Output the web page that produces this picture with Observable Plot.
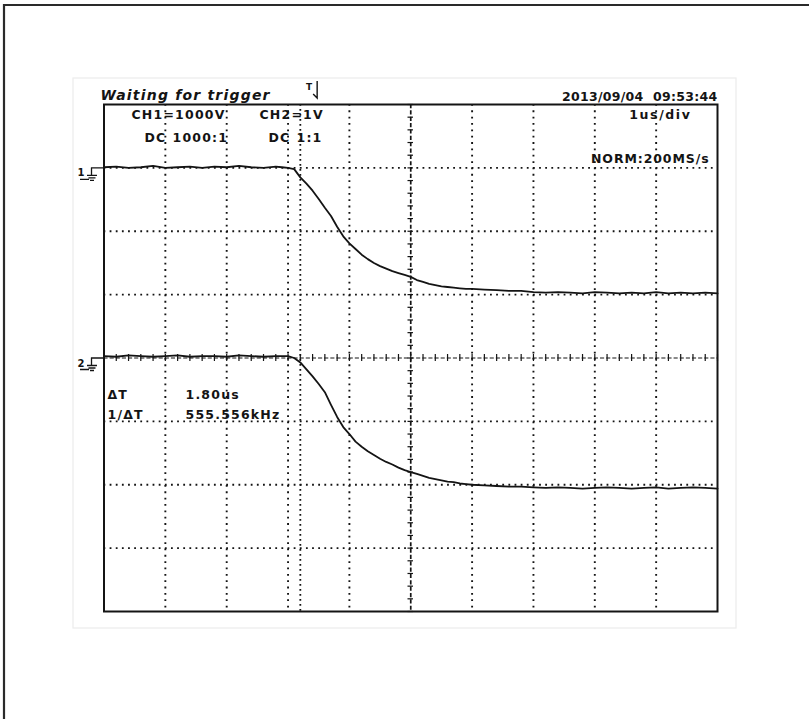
<!DOCTYPE html>
<html><head><meta charset="utf-8">
<script src="https://cdn.jsdelivr.net/npm/d3@7"></script>
<script src="https://cdn.jsdelivr.net/npm/@observablehq/plot@0.6"></script>
<style>
html,body{margin:0;padding:0;background:#fff;}
#chart{width:809px;height:719px;}
</style></head><body><div id="chart"></div>
<script>
// ---- data read from the oscilloscope screen ----
// time in microseconds (1 us/div), relative to screen centre
const timeUs = [-5.0,-4.8,-4.6,-4.4,-4.2,-4.0,-3.8,-3.6,-3.4,-3.2,-3.0,-2.8,-2.6,-2.4,-2.2,
  -2.1,-2.0,-1.9,-1.8,-1.7,-1.6,-1.5,-1.4,-1.3,-1.2,-1.1,-1.0,-0.9,-0.8,-0.7,-0.6,-0.5,-0.4,-0.3,-0.2,-0.1,
  0.0,0.1,0.2,0.3,0.4,0.5,0.6,0.7,0.8,0.9,1.0,
  1.2,1.4,1.6,1.8,2.0,2.2,2.4,2.6,2.8,3.0,3.2,3.4,3.6,3.8,4.0,4.2,4.4,4.6,4.8,5.0];
// CH1 (1000 V/div, DC 1000:1), volts relative to its marker
const ch1Volts = [10,20,0,10,30,0,10,20,0,20,10,30,10,0,20,
  10,0,-20,-150,-250,-360,-490,-630,-760,-930,-1080,-1190,-1280,-1370,-1440,-1500,-1550,-1590,-1630,-1660,-1690,
  -1720,-1770,-1800,-1830,-1850,-1870,-1880,-1890,-1900,-1910,-1910,
  -1920,-1930,-1940,-1940,-1960,-1970,-1960,-1970,-1980,-1960,-1970,-1980,-1970,-1980,-1960,-1980,-1970,-1980,-1970,-1980];
// CH2 (1 V/div, DC 1:1), volts relative to its marker
const ch2Volts = [0.03,0.02,0.04,0.03,0.02,0.03,0.04,0.02,0.03,0.03,0.02,0.04,0.03,0.02,0.03,
  0.03,0.03,0.0,-0.07,-0.18,-0.29,-0.41,-0.54,-0.74,-0.93,-1.09,-1.20,-1.32,-1.40,-1.47,-1.53,-1.59,-1.64,-1.68,-1.73,-1.77,
  -1.80,-1.83,-1.86,-1.89,-1.91,-1.93,-1.95,-1.96,-1.98,-1.99,-2.00,
  -2.01,-2.02,-2.03,-2.03,-2.04,-2.05,-2.04,-2.05,-2.06,-2.05,-2.04,-2.05,-2.06,-2.05,-2.04,-2.06,-2.05,-2.04,-2.05,-2.06];
const voltsPerDiv = [1000, 1];
const channelMarkerDiv = [3, 0];
const channelNames = ["1", "2"];
const cursorTimesUs = [-1.8, 0];
const triggerTimeUs = -1.55;
const gridDivX = [-4,-3,-2,-1,1,2,3,4];
const gridDivY = [-3,-2,-1,1,2,3];
const statusText = "Waiting for trigger";
const dateText = "2013/09/04  09:53:44";
const ch1Text = ["CH1=1000V", "DC", "1000:1"];
const ch2Text = ["CH2=1V", "DC", "1:1"];
const timebaseText = "1us/div";
const modeText = "NORM:200MS/s";
const cursorText = ["\u0394T", "1.80us", "1/\u0394T", "555.556kHz"];

const rows = timeUs.map((t, i) => ({t, ch1: ch1Volts[i], ch2: ch2Volts[i]}));

const W = 809, H = 719, ML = 103.5, MR = 92, MT = 104, MB = 108;
const ink = "#141414";
const font = {fontFamily: "DejaVu Sans", fontWeight: "bold", fontSize: 12.5, fill: ink};
const label = (s, px, py, extra = {}) => Plot.text([s], {
  text: d => d, frameAnchor: "top-left", dx: px - ML, dy: py - MT,
  lineAnchor: "bottom", textAnchor: "start", ...font, ...extra
});
const labelEnd = (s, px, py, extra = {}) => Plot.text([s], {
  text: d => d, frameAnchor: "top-right", dx: px - (W - MR), dy: py - MT,
  lineAnchor: "bottom", textAnchor: "end", ...font, ...extra
});
const minorTicks = d3.range(-5, 5.0001, 0.2);
const minorTicksY = d3.range(-4, 4.0001, 0.2);

const plot = Plot.plot({
  width: W, height: H,
  marginLeft: ML, marginRight: MR, marginTop: MT, marginBottom: MB,
  x: {domain: [-5, 5], axis: null},
  y: {domain: [-4, 4], axis: null},
  style: {background: "white", overflow: "visible"},
  marks: [
    // dotted graticule
    Plot.ruleX(gridDivX, {stroke: ink, strokeWidth: 1.9, strokeDasharray: "1.8,4.55"}),
    Plot.ruleY(gridDivY, {stroke: ink, strokeWidth: 1.9, strokeDasharray: "1.8,4.335"}),
    // centre axes with minor ticks
    Plot.ruleY([0], {stroke: ink, strokeWidth: 1.1, strokeDasharray: "4.1,2.03"}),
    Plot.ruleX(minorTicks, {y1: -0.055, y2: 0.055, stroke: ink, strokeWidth: 1.2}),
    Plot.ruleX([cursorTimesUs[1]], {stroke: ink, strokeWidth: 1.7, strokeDasharray: "4.2,2.15"}),
    Plot.ruleY(minorTicksY, {x1: -0.045, x2: 0.045, stroke: ink, strokeWidth: 1.2}),
    // cursor 1
    Plot.ruleX([cursorTimesUs[0]], {stroke: ink, strokeWidth: 1.8, strokeDasharray: "1.8,3.2"}),
    // traces
    Plot.line(rows, {x: "t", y: d => d.ch1 / voltsPerDiv[0] + channelMarkerDiv[0], stroke: ink, strokeWidth: 1.8}),
    Plot.line(rows, {x: "t", y: d => d.ch2 / voltsPerDiv[1] + channelMarkerDiv[1], stroke: ink, strokeWidth: 1.8}),
    Plot.frame({stroke: ink, strokeWidth: 2}),
    // header
    label(statusText, 100, 99, {fontStyle: "italic", fontSize: 14}),
    labelEnd(dateText, 717, 100, {fontWeight: 600, fontSize: 12.5}),
    label(ch1Text[0], 131, 118),
    label(ch1Text[1], 144, 141.5),
    label(ch1Text[2], 172, 141.5),
    label(ch2Text[0], 259, 118),
    label(ch2Text[1], 268, 141.5),
    label(ch2Text[2], 296, 141.5),
    labelEnd(timebaseText, 691, 118),
    labelEnd(modeText, 709, 162),
    label(cursorText[0], 107, 398),
    label(cursorText[1], 185, 398),
    label(cursorText[2], 107, 418),
    label(cursorText[3], 185, 418)
  ]
});

// letter spacing of the scope's bitmap-like font
const spacing = new Map([[statusText, 1.2], [dateText, 0.3], [timebaseText, 1.6], [modeText, 0.9]]);
[...ch1Text, ...ch2Text, ...cursorText].forEach(s => spacing.set(s, 1.2));
plot.querySelectorAll("text").forEach(el => {
  const s = spacing.get(el.textContent);
  if (s != null) el.style.letterSpacing = s + "px";
});

// decorations: page border, channel ground markers, trigger marker
const sx = plot.scale("x"), sy = plot.scale("y");
const svg = d3.select(plot);
svg.insert("rect", ":first-child").attr("x", 73).attr("y", 78).attr("width", 663).attr("height", 550)
  .attr("fill", "none").attr("stroke", "#ececec").attr("stroke-width", 1.2);
svg.append("path").attr("fill", "none").attr("d", `M4,719V5H809`).attr("stroke", "#2a2a2a").attr("stroke-width", 2.2);
channelMarkerDiv.forEach((m, i) => {
  const y0 = sy.apply(m);
  const g = svg.append("g");
  g.append("text").attr("x", 81).attr("y", y0 + 9).text(channelNames[i])
    .attr("font-family", "DejaVu Sans").attr("font-weight", "bold").attr("font-size", 10).attr("fill", ink);
  g.append("path").attr("fill", "none").attr("stroke", ink).attr("stroke-width", 1.3)
    .attr("d", `M80,${y0 + 12}H89 M91,${y0 + 0.5}H${ML} M91.5,${y0}V${y0 + 8} M87,${y0 + 8}H97 M88.5,${y0 + 10.5}H95.5 M90,${y0 + 13}H94`);
});
const tx = sx.apply(triggerTimeUs);
const tg = svg.append("g");
tg.append("text").attr("x", tx - 6).attr("y", 90).text("T").attr("font-family", "DejaVu Sans").attr("font-weight", "bold").attr("font-size", 9).attr("fill", ink);
tg.append("path").attr("fill", "none").attr("stroke", ink).attr("stroke-width", 1.4)
  .attr("d", `M${tx + 2},81V98 M${tx - 2},94L${tx + 2},98L${tx + 2},94`);

document.getElementById("chart").appendChild(plot);
</script></body></html>
